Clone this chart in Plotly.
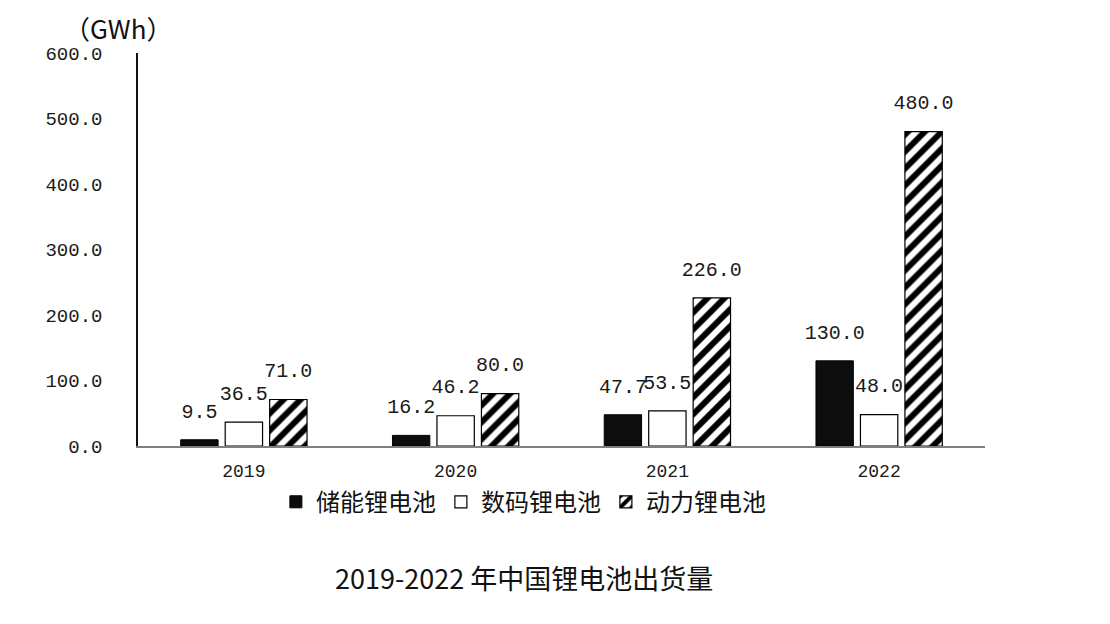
import plotly.graph_objects as go

years = ["2019", "2020", "2021", "2022"]
storage = [9.5, 16.2, 47.7, 130.0]
digital = [36.5, 46.2, 53.5, 48.0]
power = [71.0, 80.0, 226.0, 480.0]
series_names = ["储能锂电池", "数码锂电池", "动力锂电池"]
y_ticks = [0, 100, 200, 300, 400, 500, 600]
y_tick_labels = ["0.0", "100.0", "200.0", "300.0", "400.0", "500.0", "600.0"]

mono = "Liberation Mono, DejaVu Sans Mono, monospace"
num_font = dict(family=mono, size=20, color="#1a1a1a")
cjk = "Noto Sans CJK SC"

series = [
    (series_names[0], storage, dict(color="#0d0d0d", line=dict(color="#000000", width=1))),
    (series_names[1], digital, dict(color="#ffffff", line=dict(color="#000000", width=1.2))),
    (series_names[2], power, dict(color="#ffffff", line=dict(color="#000000", width=1.2),
                                  pattern=dict(shape="/", fgcolor="#000000", bgcolor="#ffffff",
                                               fgopacity=1, size=12, solidity=0.5))),
]

fig = go.Figure()
for i, (name, vals, marker) in enumerate(series):
    fig.add_trace(go.Bar(
        x=years, y=vals, name=name, marker=marker,
        offsetgroup=str(i), alignmentgroup="g",
    ))
for i, (name, vals, marker) in enumerate(series):
    fig.add_trace(go.Scatter(
        x=years, y=vals, mode="markers+text", text=[f"{v:.1f}" for v in vals],
        textposition="top center", textfont=num_font,
        marker=dict(size=26, color="rgba(0,0,0,0)", line=dict(width=0)),
        showlegend=False, hoverinfo="skip",
        offsetgroup=str(i), alignmentgroup="g", cliponaxis=False,
    ))

fig.update_layout(
    width=1110, height=624,
    paper_bgcolor="white", plot_bgcolor="white",
    margin=dict(l=130, r=133, t=45, b=186),
    barmode="group", bargap=0.37, bargroupgap=0.16,
    scattermode="group", scattergap=0.37,
    showlegend=True,
    legend=dict(orientation="h", x=0.455, xanchor="center", y=-0.143, yanchor="middle",
                font=dict(family=cjk, size=24, color="#111111"),
                itemwidth=30, traceorder="normal", bgcolor="rgba(0,0,0,0)"),
    font=dict(family=cjk, color="#111111"),
)
fig.update_xaxes(
    showline=True, linecolor="#7f7f7f", linewidth=1.5, ticks="", showgrid=False,
    ticklabelstandoff=8,
    tickfont=dict(family=mono, size=18, color="#1a1a1a"),
)
fig.update_yaxes(
    range=[0, 600], tickvals=y_ticks, ticktext=y_tick_labels,
    showline=True, linecolor="#111111", linewidth=1.5, ticks="", showgrid=False,
    zeroline=False, ticklabelstandoff=30,
    tickfont=dict(family=mono, size=19, color="#1a1a1a"),
)
fig.add_annotation(text="（GWh）", xref="paper", yref="paper", x=-0.024, y=1.064,
                   xanchor="center", yanchor="middle", showarrow=False,
                   font=dict(family=cjk, size=26, color="#111111"))
fig.add_annotation(text="2019-2022 年中国锂电池出货量", xref="paper", yref="paper",
                   x=0.456, y=-0.335, xanchor="center", yanchor="middle", showarrow=False,
                   font=dict(family=cjk, size=27, color="#111111"))

fig.write_html("out.html")
